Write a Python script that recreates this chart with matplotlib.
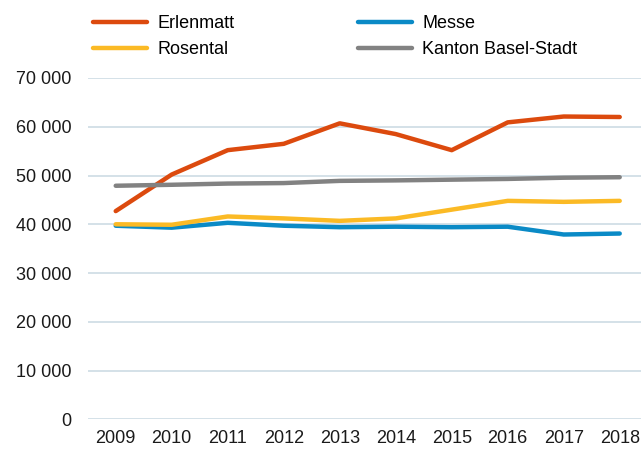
import matplotlib
matplotlib.use('Agg')
import matplotlib.pyplot as plt
from matplotlib.ticker import FuncFormatter

# Werte
jahre = [2009, 2010, 2011, 2012, 2013, 2014, 2015, 2016, 2017, 2018]
erlenmatt = [42700, 50200, 55200, 56500, 60700, 58500, 55200, 60900, 62100, 62000]
messe = [39700, 39300, 40300, 39700, 39400, 39500, 39400, 39500, 37900, 38100]
rosental = [40000, 39900, 41600, 41200, 40700, 41200, 43000, 44800, 44600, 44800]
kanton = [47900, 48100, 48350, 48450, 48900, 49000, 49150, 49300, 49550, 49650]

reihen = [
    ('Erlenmatt', erlenmatt, '#dc4a0e'),
    ('Messe', messe, '#0a8ac6'),
    ('Rosental', rosental, '#fbba25'),
    ('Kanton Basel-Stadt', kanton, '#828282'),
]

plt.rcParams['font.family'] = ['Liberation Sans', 'DejaVu Sans']

W, H = 641, 450
fig = plt.figure(figsize=(W / 100, H / 100), dpi=100)
ax = fig.add_axes([88 / W, 1 - 419.3 / H, 1 - 88 / W, (419.3 - 78) / H])

handles = []
for name, werte, farbe in reihen:
    h, = ax.plot(jahre, werte, color=farbe, lw=3.2, solid_capstyle='round',
                 solid_joinstyle='round', label=name, clip_on=False, zorder=3)
    handles.append(h)

ax.set_ylim(0, 70000)
ax.set_xlim(2009 - 0.495, 2018 + 0.38)
ax.set_yticks(range(0, 70001, 10000))
ax.set_xticks(jahre)
ax.yaxis.set_major_formatter(FuncFormatter(lambda v, p: f'{int(v):,}'.replace(',', ' ')))
ax.grid(axis='y', color='#c9d9e2', lw=1.1)
ax.set_axisbelow(True)
for s in ax.spines.values():
    s.set_visible(False)
ax.tick_params(axis='both', length=0, labelsize=13, colors='#1a1a1a')
ax.tick_params(axis='y', pad=12)
ax.tick_params(axis='x', pad=8)

# Reihenfolge: Zeile 1 Erlenmatt/Messe, Zeile 2 Rosental/Kanton
order = [handles[0], handles[2], handles[1], handles[3]]
fig.legend(order, [h.get_label() for h in order], loc='upper left',
           bbox_to_anchor=(93 / W, 1 - 15 / H), ncol=2, frameon=False,
           fontsize=13, handlelength=3.0, handletextpad=0.55,
           columnspacing=6.85, labelspacing=0.52, borderpad=0, borderaxespad=0)

fig.savefig('out.png', dpi=100)
